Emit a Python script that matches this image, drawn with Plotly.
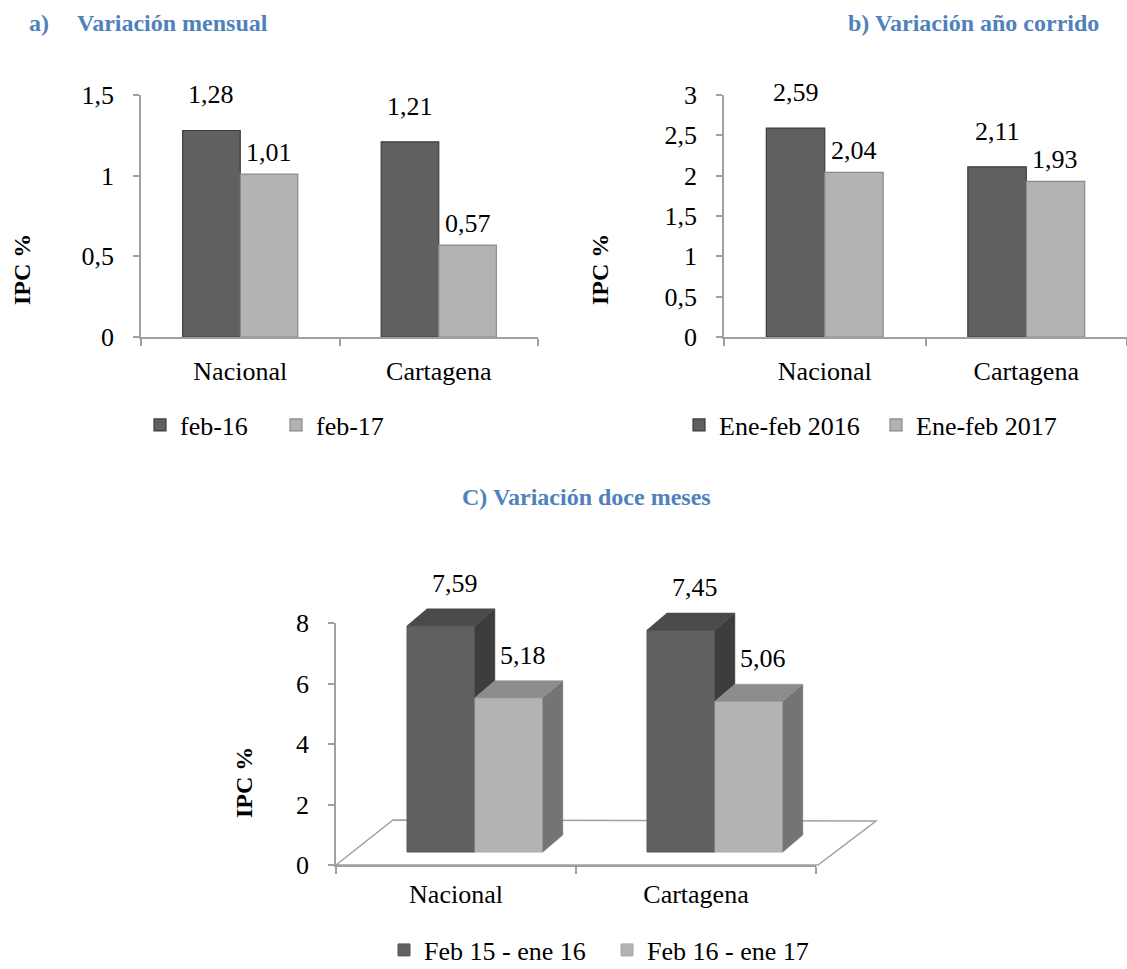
import plotly.graph_objects as go

W, H = 1127, 969
FONT = "'Liberation Serif', 'Times New Roman', Times, serif"
TITLE_COLOR = "#4f81bd"
DARK = "#606060"
DARK_LINE = "#3c3c3c"
LIGHT = "#b3b3b3"
LIGHT_LINE = "#8a8a8a"
AXIS = "#a0a0a0"

categories = ["Nacional", "Cartagena"]

# a) Variación mensual
mensual_names = ["feb-16", "feb-17"]
mensual_feb16 = [1.28, 1.21]
mensual_feb17 = [1.01, 0.57]

# b) Variación año corrido
corrido_names = ["Ene-feb 2016", "Ene-feb 2017"]
corrido_2016 = [2.59, 2.11]
corrido_2017 = [2.04, 1.93]

# C) Variación doce meses
doce_names = ["Feb 15 - ene 16", "Feb 16 - ene 17"]
doce_1516 = [7.59, 7.45]
doce_1617 = [5.18, 5.06]


def px_x(x):
    return x / W


def px_y(y):
    return 1 - y / H


def fmt(v):
    return f"{v:.2f}".replace(".", ",")


fig = go.Figure()

BARGAP = 0.42
HALF = (1 - BARGAP) / 4  # half of one bar width in category units

# ---------- a) and b): flat grouped bars ----------
panels = [
    ("x", "y", ("legend", "legend4"), mensual_names, mensual_feb16, mensual_feb17),
    ("x2", "y2", ("legend2", "legend5"), corrido_names, corrido_2016, corrido_2017),
]
annotations = []
for xa, ya, lgs, names, s1, s2 in panels:
    fig.add_trace(go.Bar(x=categories, y=s1, name=names[0], xaxis=xa, yaxis=ya, legend=lgs[0],
                         marker=dict(color=DARK, line=dict(color=DARK_LINE, width=1.2))))
    fig.add_trace(go.Bar(x=categories, y=s2, name=names[1], xaxis=xa, yaxis=ya, legend=lgs[1],
                         marker=dict(color=LIGHT, line=dict(color=LIGHT_LINE, width=1.2))))
    for i in range(len(categories)):
        annotations.append(dict(x=i - HALF, y=s1[i], xref=xa, yref=ya, text=fmt(s1[i]),
                                showarrow=False, yanchor="bottom", yshift=19,
                                font=dict(size=26, color="black", family=FONT)))
        annotations.append(dict(x=i + HALF, y=s2[i], xref=xa, yref=ya, text=fmt(s2[i]),
                                showarrow=False, yanchor="bottom", yshift=5,
                                font=dict(size=26, color="black", family=FONT)))

# ---------- C): pseudo 3D bars ----------
xs = list(range(len(categories)))
BW = 0.283          # bar width (x units)
SHIFT = 0.079       # group shift due to perspective
DX = 0.083          # depth offset x (x units)
DY = 0.57           # depth offset y (value units)

# value-axis subplot of chart C (keeps the visible 0-8 axis in place)
fig.add_trace(go.Scatter(x=xs, y=[0] * len(xs), xaxis="x3", yaxis="y3", mode="markers",
                         marker=dict(opacity=0), showlegend=False, hoverinfo="skip"))

fig.add_trace(go.Bar(x=xs, y=doce_1516, name=doce_names[0], width=BW, offset=SHIFT - BW,
                     xaxis="x3", yaxis="y4", legend="legend3",
                     marker=dict(color=DARK, line=dict(color="#555555", width=1))))
fig.add_trace(go.Bar(x=xs, y=doce_1617, name=doce_names[1], width=BW, offset=SHIFT,
                     xaxis="x3", yaxis="y4", legend="legend6",
                     marker=dict(color=LIGHT, line=dict(color="#a8a8a8", width=1))))


def faces(values, offset, lower):
    top_x, top_y, side_x, side_y = [], [], [], []
    for i, v in enumerate(values):
        x0 = xs[i] + offset
        x1 = x0 + BW
        lo = lower[i]
        top_x += [x0, x0 + DX, x1 + DX, x1, x0, None]
        top_y += [v, v + DY, v + DY, v, v, None]
        side_x += [x1, x1, x1 + DX, x1 + DX, x1, None]
        side_y += [lo, v, v + DY, lo + DY, lo, None]
    return top_x, top_y, side_x, side_y


def poly(px, py, color):
    return go.Scatter(x=px, y=py, fill="toself", fillcolor=color, mode="lines",
                      line=dict(color=color, width=0.5), xaxis="x3", yaxis="y4",
                      showlegend=False, hoverinfo="skip")


# dark bars: side only visible above the light neighbour
tx, ty, sx, sy = faces(doce_1516, SHIFT - BW, [min(a, b) for a, b in zip(doce_1617, doce_1516)])
fig.add_trace(poly(sx, sy, "#3d3d3d"))
fig.add_trace(poly(tx, ty, "#4a4a4a"))
tx, ty, sx, sy = faces(doce_1617, SHIFT, [0] * len(doce_1617))
fig.add_trace(poly(sx, sy, "#747474"))
fig.add_trace(poly(tx, ty, "#8c8c8c"))

for i in range(len(categories)):
    for vals, off in ((doce_1516, SHIFT - BW), (doce_1617, SHIFT)):
        xc = xs[i] + off + BW / 2 + DX / 2
        annotations.append(dict(x=xc, y=vals[i] + DY, xref="x3", yref="y4", text=fmt(vals[i]),
                                showarrow=False, yanchor="bottom", yshift=9, xshift=4,
                                font=dict(size=26, color="black", family=FONT)))

# floor of the 3D chart (decoration, in page coordinates so it is not clipped)
floor_pts = [(336, 865), (393, 820), (876, 821), (818, 865)]
floor_path = "M " + " L ".join(f"{px_x(a):.5f},{px_y(b):.5f}" for a, b in floor_pts) + " Z"
shapes = [dict(type="path", path=floor_path, xref="paper", yref="paper", layer="below",
               fillcolor="white", line=dict(color=AXIS, width=1.5))]

# titles
tfont = dict(size=24, color=TITLE_COLOR, family=FONT)
annotations += [
    dict(x=px_x(27), y=px_y(23), xref="paper", yref="paper", text="<b>a)</b>", showarrow=False,
         xanchor="left", yanchor="middle", font=tfont),
    dict(x=px_x(75), y=px_y(23), xref="paper", yref="paper", text="<b>Variación mensual</b>",
         showarrow=False, xanchor="left", yanchor="middle", font=tfont),
    dict(x=px_x(1101), y=px_y(23), xref="paper", yref="paper", text="<b>b) Variación año corrido</b>",
         showarrow=False, xanchor="right", yanchor="middle", font=tfont),
    dict(x=px_x(586), y=px_y(497), xref="paper", yref="paper", text="<b>C) Variación doce meses</b>",
         showarrow=False, xanchor="center", yanchor="middle", font=tfont),
]
yfont = dict(size=24, color="black", family=FONT)
for (xp, yp) in ((22, 270), (600, 270), (244, 783)):
    annotations.append(dict(x=px_x(xp), y=px_y(yp), xref="paper", yref="paper", text="<b>IPC %</b>",
                            showarrow=False, textangle=-90, xanchor="center", yanchor="middle",
                            font=yfont))

tickfont = dict(size=26, color="black", family=FONT)
common_y = dict(showline=True, linecolor=AXIS, linewidth=1.5, ticks="outside", ticklen=6,
                tickcolor=AXIS, tickwidth=1.5, showgrid=False, zeroline=False,
                tickfont=tickfont, ticklabelstandoff=14)
common_xcat = dict(type="category", showline=True, linecolor=AXIS, linewidth=1.5,
                   ticks="outside", tickson="boundaries", ticklen=7, tickcolor=AXIS,
                   tickwidth=1.5, showgrid=False, tickfont=tickfont, ticklabelstandoff=10)


def legend_at(icon_center_x, y):
    return dict(orientation="h", bgcolor="rgba(0,0,0,0)", font=tickfont,
                xanchor="left", yanchor="middle", x=px_x(icon_center_x - 24), y=px_y(y))


Y4_TOP_PX = 560
fig.update_layout(
    width=W, height=H,
    margin=dict(l=0, r=0, t=0, b=0, autoexpand=False),
    paper_bgcolor="white", plot_bgcolor="rgba(0,0,0,0)",
    separators=",.",
    font=dict(family=FONT, color="black"),
    barmode="group", bargap=BARGAP, bargroupgap=0,
    xaxis=dict(domain=[px_x(141), px_x(538)], anchor="y", **common_xcat),
    yaxis=dict(domain=[px_y(337), px_y(95)], anchor="x", range=[0, 1.5], dtick=0.5, **common_y),
    xaxis2=dict(domain=[px_x(724), px_x(1127)], anchor="y2", **common_xcat),
    yaxis2=dict(domain=[px_y(337), px_y(95)], anchor="x2", range=[0, 3], dtick=0.5, **common_y),
    xaxis3=dict(domain=[px_x(336), px_x(816)], anchor="y3", type="linear", range=[-0.5, 1.5],
                tickvals=xs, ticktext=categories, ticks="", showline=True, linecolor=AXIS,
                linewidth=1.5, showgrid=False, zeroline=False, tickfont=tickfont,
                ticklabelstandoff=5,
                minor=dict(tickvals=[-0.5, 0.5, 1.5], ticks="outside", ticklen=7,
                           tickcolor=AXIS, tickwidth=1.5, showgrid=False)),
    yaxis3=dict(domain=[px_y(865), px_y(623)], anchor="x3", range=[0, 8], dtick=2, **common_y),
    yaxis4=dict(domain=[px_y(865), px_y(Y4_TOP_PX)], anchor="x3",
                range=[-13 / 29.8, (852 - Y4_TOP_PX) / 29.8], visible=False),
    legend=legend_at(164, 425),
    legend4=legend_at(300, 425),
    legend2=legend_at(703, 425),
    legend5=legend_at(900, 425),
    legend3=legend_at(408, 950),
    legend6=legend_at(631, 950),
    annotations=annotations,
    shapes=shapes,
    showlegend=True,
)

post = ("document.body.style.margin='0';document.body.style.overflow='hidden';"
        "var d=document.getElementById('{plot_id}');d.style.position='fixed';"
        "d.style.left='0px';d.style.top='0px';")
fig.write_html("out.html", post_script=post, config={"displayModeBar": False})
